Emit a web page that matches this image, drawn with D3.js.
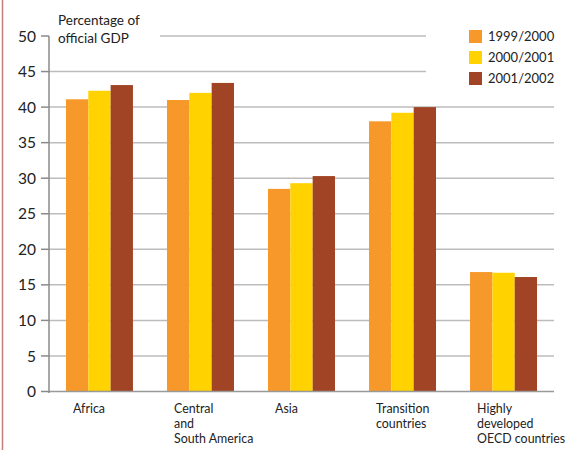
<!DOCTYPE html>
<html>
<head>
<meta charset="utf-8">
<script src="https://cdn.jsdelivr.net/npm/d3@7"></script>
<style>
  html, body { margin: 0; padding: 0; background: #fff; }
  svg { display: block; font-family: Lato, "Open Sans", sans-serif; }
</style>
</head>
<body>
<svg width="576" height="450"></svg>
<script>
// data
var regions = ["Africa", "Central and South America", "Asia", "Transition countries", "Highly developed OECD countries"];
var regionLines = [["Africa"], ["Central", "and", "South America"], ["Asia"], ["Transition", "countries"], ["Highly", "developed", "OECD countries"]];
var years = ["1999/2000", "2000/2001", "2001/2002"];
var v1999 = [41.1, 41.0, 28.5, 38.0, 16.8];
var v2000 = [42.3, 42.0, 29.3, 39.2, 16.7];
var v2001 = [43.1, 43.4, 30.3, 40.0, 16.1];
var yTicks = [0, 5, 10, 15, 20, 25, 30, 35, 40, 45, 50];
var colors = ["#F7982A", "#FFD200", "#A04425"];

var series = [v1999, v2000, v2001];
var svg = d3.select("svg");

// left border
svg.append("line").attr("x1", 2.5).attr("x2", 2.5).attr("y1", 0).attr("y2", 450)
  .attr("stroke", "#c97c7c").attr("stroke-width", 1.5);

var x0 = d3.scaleBand().domain(regions).range([49, 554]).paddingInner(0.337).paddingOuter(0.168);
var x1 = d3.scaleBand().domain(years).range([0, x0.bandwidth()]);
var y = d3.scaleLinear().domain([0, 50]).range([391.5, 36]);

// gridlines
var grid = svg.append("g");
grid.selectAll("line").data(yTicks.filter(function(d) { return d > 0; })).enter().append("line")
  .attr("x1", function(d) { return d == 50 ? 160 : 49; })
  .attr("x2", function(d) { return d >= 45 ? 426 : 554; })
  .attr("y1", function(d) { return y(d); })
  .attr("y2", function(d) { return y(d); })
  .attr("stroke", "#bcbcbc").attr("stroke-width", 1.5);

// bars
svg.append("g").selectAll("g").data(regions).enter().append("g")
  .attr("transform", function(d) { return "translate(" + x0(d) + ",0)"; })
  .selectAll("rect")
  .data(function(d, i) { return years.map(function(yr, k) { return {key: yr, value: series[k][i], k: k}; }); })
  .enter().append("rect")
    .attr("x", function(d) { return x1(d.key); })
    .attr("y", function(d) { return y(d.value); })
    .attr("width", x1.bandwidth())
    .attr("height", function(d) { return y(0) - y(d.value); })
    .attr("fill", function(d) { return colors[d.k]; });

// axes
svg.append("line").attr("x1", 49).attr("x2", 554).attr("y1", y(0)).attr("y2", y(0))
  .attr("stroke", "#999").attr("stroke-width", 1.5);
svg.append("line").attr("x1", 49).attr("x2", 49).attr("y1", y(50)).attr("y2", y(0) + 1.5)
  .attr("stroke", "#8a8a8a").attr("stroke-width", 1.5);

var yAxis = svg.append("g");
yAxis.selectAll("line").data(yTicks).enter().append("line")
  .attr("x1", 41).attr("x2", 49)
  .attr("y1", function(d) { return y(d); }).attr("y2", function(d) { return y(d); })
  .attr("stroke", "#8a8a8a").attr("stroke-width", 1.5);
yAxis.selectAll("text").data(yTicks).enter().append("text")
  .attr("x", 36).attr("y", function(d) { return y(d); }).attr("dy", "0.36em")
  .attr("text-anchor", "end").attr("font-size", 15.5).attr("fill", "#222")
  .text(function(d) { return d; });

// x labels, one text per line
var labelData = [];
regions.forEach(function(r, i) {
  regionLines[i].forEach(function(line, j) { labelData.push({region: r, line: line, j: j}); });
});
svg.append("g").selectAll("text").data(labelData).enter().append("text")
  .attr("x", function(d) { return x0(d.region) + 7; })
  .attr("y", function(d) { return 413 + d.j * 15; })
  .attr("font-size", 12.4).attr("fill", "#222")
  .text(function(d) { return d.line; });

// y title
svg.append("text").attr("x", 58).attr("y", 25).attr("font-size", 13.5).attr("fill", "#222").text("Percentage of");
svg.append("text").attr("x", 58).attr("y", 43).attr("font-size", 13.5).attr("fill", "#222").text("official GDP");

// legend
var legend = svg.append("g").selectAll("g").data(years).enter().append("g")
  .attr("transform", function(d, i) { return "translate(469," + (30 + i * 21) + ")"; });
legend.append("rect").attr("width", 13).attr("height", 13).attr("fill", function(d, i) { return colors[i]; });
legend.append("text").attr("x", 19).attr("y", 6.5).attr("dy", "0.36em")
  .attr("font-size", 13).attr("fill", "#222").text(function(d) { return d; });
</script>
</body>
</html>
